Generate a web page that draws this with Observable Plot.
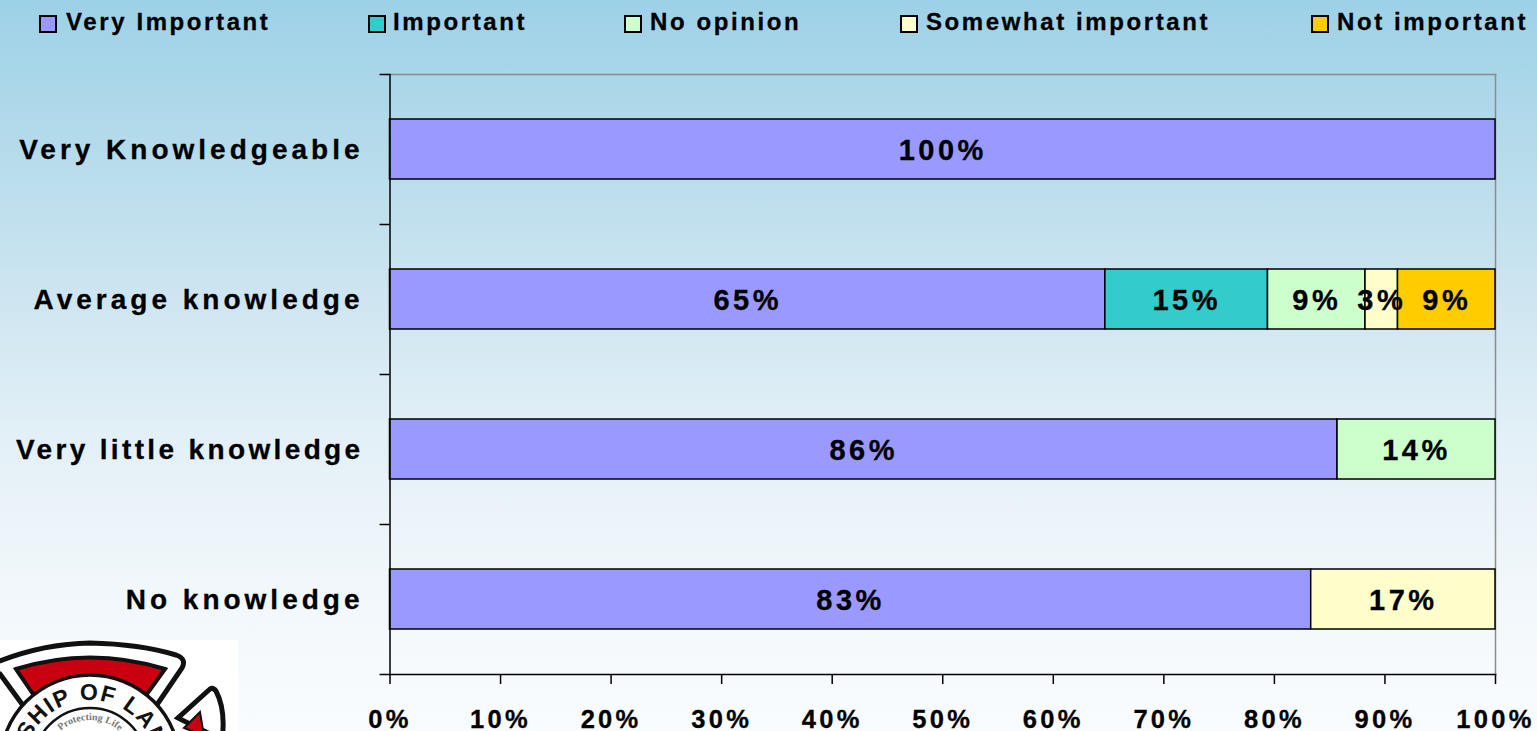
<!DOCTYPE html>
<html>
<head>
<meta charset="utf-8">
<script src="https://cdn.jsdelivr.net/npm/d3@7"></script>
<script src="https://cdn.jsdelivr.net/npm/@observablehq/plot@0.6"></script>
<style>
html,body{margin:0;padding:0;width:1537px;height:731px;overflow:hidden;}
body{background:linear-gradient(to bottom,#9dd1e7 0%,#b5dbeb 20%,#cde5f1 40%,#e3f0f7 60%,#f1f7fb 80%,#f9fcfe 100%);position:relative;font-family:"Liberation Sans",Arial,sans-serif;}
#legend{position:relative;height:73px;font-weight:bold;font-size:24px;letter-spacing:2.6px;color:#000;-webkit-text-stroke:.3px #000;}
#legend .sw{position:absolute;top:15px;width:14px;height:14px;border:2px solid #000;}
#legend .lb{position:absolute;top:7px;white-space:nowrap;line-height:29px;}
#chart svg{display:block;background:transparent!important;}
#chart g[aria-label="y-axis tick label"]{letter-spacing:4px;stroke:#000;stroke-width:.3px;}
#chart g[aria-label="y-axis tick label"] text:nth-of-type(3){letter-spacing:3.36px;}
#chart g[aria-label="x-axis tick label"]{letter-spacing:3.3px;stroke:#000;stroke-width:.3px;}
#chart g[aria-label="text"]{letter-spacing:3.5px;stroke:#000;stroke-width:.3px;}
#logo{position:absolute;left:0;top:640px;}
</style>
</head>
<body>
<div id="legend"></div>
<div id="chart"></div>
<svg id="logo" width="238" height="91" viewBox="0 0 238 91">
  <rect width="238" height="91" fill="#fff"/>
  <path d="M-30 34 Q30 4 90 3 Q140 4 176 15 Q187 19 182 28 L150 75 L30 75 L0 34Z" fill="#fff" stroke="#111" stroke-width="5"/>
  <path d="M16 29 Q90 6 165 29 L147 54 L33 54Z" fill="#c90010" stroke="#111" stroke-width="4"/>
  <path d="M210 49 L178 78 L222 100 Q226 70 216 51 Q213 47 210 49Z" fill="#fff" stroke="#111" stroke-width="5"/>
  <path d="M200 72 L184 88 L204 96Z" fill="#c90010" stroke="#111" stroke-width="2"/>
  <circle cx="90" cy="125" r="90" fill="#fff" stroke="#111" stroke-width="3.5"/>
  <circle cx="90" cy="125" r="57" fill="#fff" stroke="#111" stroke-width="2.5"/>
  <path id="arcA" d="M90 190 A65 65 0 1 1 90.01 190" fill="none"/>
  <text font-family="Liberation Sans" font-weight="bold" font-size="23" letter-spacing="1.5" fill="#111"><textPath href="#arcA" startOffset="50%" text-anchor="middle">TOWNSHIP OF LANGLEY</textPath></text>
  <path id="arcB" d="M45 125 A45 45 0 0 1 135 125" fill="none"/>
  <text font-family="Liberation Serif" font-weight="bold" font-size="10" fill="#777"><textPath href="#arcB" startOffset="50%" text-anchor="middle">Protecting Life</textPath></text>
</svg>
<script>
const categories = ["Very Knowledgeable", "Average knowledge", "Very little knowledge", "No knowledge"];
const seriesNames = ["Very Important", "Important", "No opinion", "Somewhat important", "Not important"];
const seriesColors = ["#9999ff", "#33cccc", "#ccffcc", "#ffffcc", "#ffcc00"];
const veryImportant = [100, 64.71, 85.71, 83.33];
const important = [0, 14.71, 0, 0];
const noOpinion = [0, 8.82, 14.29, 0];
const somewhatImportant = [0, 2.94, 0, 16.67];
const notImportant = [0, 8.82, 0, 0];
const xTicks = [0, 10, 20, 30, 40, 50, 60, 70, 80, 90, 100];
const legendSwatchX = [39, 368, 624, 900, 1311];
const legendTextX = [66, 393, 650, 926, 1337];

const seriesValues = [veryImportant, important, noOpinion, somewhatImportant, notImportant];
const rows = [];
seriesNames.forEach((s, i) => categories.forEach((c, j) => {
  if (seriesValues[i][j] > 0) rows.push({series: s, category: c, value: seriesValues[i][j]});
}));

const legend = document.getElementById("legend");
seriesNames.forEach((s, i) => {
  const sw = document.createElement("div");
  sw.className = "sw"; sw.style.left = legendSwatchX[i] + "px"; sw.style.background = seriesColors[i];
  const lb = document.createElement("div");
  lb.className = "lb"; lb.style.left = legendTextX[i] + "px"; lb.textContent = s;
  legend.append(sw, lb);
});

const stackOpts = {x: "value", y: "category", z: "series", order: seriesNames};
const chart = Plot.plot({
  width: 1537,
  height: 658,
  marginLeft: 389.5,
  marginRight: 42,
  marginTop: 1,
  marginBottom: 57,
  style: {fontFamily: "Liberation Sans", fontWeight: "bold", fontSize: "25px", color: "#000", background: "transparent", overflow: "visible"},
  x: {domain: [0, 100], label: null},
  y: {domain: categories, label: null, padding: 0.6, align: 0.5, paddingOuter: 0.3},
  color: {domain: seriesNames, range: seriesColors},
  marks: [
    Plot.frame({anchor: "top", stroke: "#8c8c8c", strokeWidth: 1.5}),
    Plot.frame({anchor: "right", stroke: "#8c8c8c", strokeWidth: 1.5}),
    Plot.barX(rows, Plot.stackX({...stackOpts, fill: "series", stroke: "#000", strokeWidth: 1.5})),
    Plot.frame({anchor: "left", stroke: "#000", strokeWidth: 1.5}),
    Plot.frame({anchor: "bottom", stroke: "#000", strokeWidth: 1.5}),
    Plot.ruleY(categories, {y: d => d, x1: -0.9, x2: 0, dy: -75, stroke: "#000", strokeWidth: 1.5}),
    Plot.ruleY(categories.slice(-1), {y: d => d, x1: -0.9, x2: 0, dy: 75, stroke: "#000", strokeWidth: 1.5}),
    Plot.text(rows, Plot.stackX({...stackOpts, text: d => Math.round(d.value) + "%", fill: "#000", fontSize: 29, fontWeight: "bold", dy: 1})),
    Plot.axisX({ticks: xTicks, tickSize: 10, tickPadding: 25, tickFormat: d => d + "%", stroke: "#000", strokeWidth: 1.5, fontSize: 25.5, fill: "#000"}),
    Plot.axisY({tickSize: 0, tickPadding: 26.5, fontSize: 28, fill: "#000", dy: 1})
  ]
});
document.getElementById("chart").append(chart);
</script>
</body>
</html>
